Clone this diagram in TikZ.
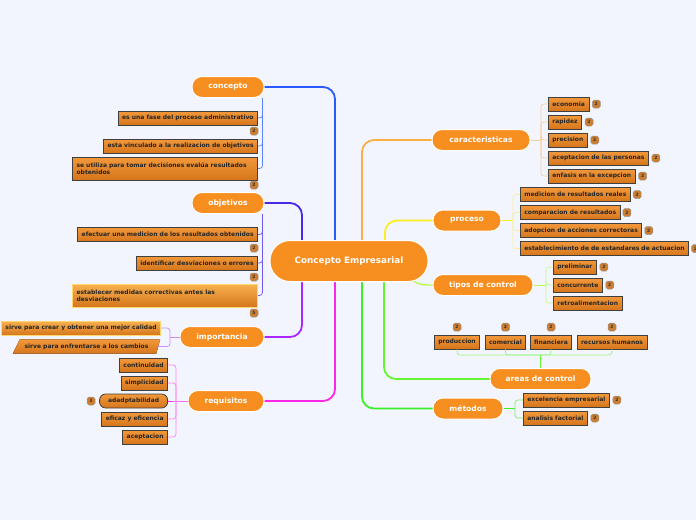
\documentclass[tikz,border=0pt]{standalone}
\usepackage{fontspec}
\setmainfont{DejaVu Sans}
\definecolor{bg}{RGB}{242,245,254}
\definecolor{org}{RGB}{247,142,32}
\definecolor{ltop}{RGB}{242,152,58}
\definecolor{lbot}{RGB}{214,118,28}
\definecolor{ytop}{RGB}{248,178,80}
\definecolor{bdg}{RGB}{205,125,45}
\definecolor{cblue}{RGB}{40,90,255}
\definecolor{cblueL}{RGB}{90,130,255}
\definecolor{cind}{RGB}{70,40,230}
\definecolor{cindL}{RGB}{110,90,240}
\definecolor{cpur}{RGB}{170,40,255}
\definecolor{cpurL}{RGB}{205,140,255}
\definecolor{cmag}{RGB}{250,40,230}
\definecolor{cmagL}{RGB}{255,130,240}
\definecolor{corg}{RGB}{250,175,70}
\definecolor{corgL}{RGB}{250,205,150}
\definecolor{cyel}{RGB}{250,240,30}
\definecolor{cyelL}{RGB}{250,240,150}
\definecolor{clim}{RGB}{185,250,80}
\definecolor{climL}{RGB}{195,250,150}
\definecolor{cgrn}{RGB}{100,245,50}
\definecolor{cgrnL}{RGB}{155,245,125}
\definecolor{cgr2}{RGB}{60,240,40}
\definecolor{cgr2L}{RGB}{125,240,95}
\tikzset{
  mainnode/.style={fill=org, draw=white, line width=1pt, rounded corners=10pt,
    text=white, font=\fontsize{7.6}{9}\selectfont\bfseries, minimum height=21pt, inner sep=0pt},
  centernode/.style={fill=org, draw=white, line width=1pt, rounded corners=20pt,
    text=white, font=\fontsize{8.8}{10}\selectfont\bfseries, minimum height=41pt,
    minimum width=158pt, inner sep=0pt},
  leaftext/.style={text=black!85, font=\fontsize{6}{7}\selectfont\bfseries},
  leaf/.style={leaftext, draw=black!75, line width=0.8pt, top color=ltop, bottom color=lbot,
    minimum height=14pt, inner xsep=4pt, inner ysep=1pt},
  leafy/.style={leaf, draw={rgb,255:red,255;green,215;blue,110}, top color=ytop},
  badge/.style={draw=black!40, line width=0.5pt, fill=bdg, rounded corners=1.8pt,
    minimum size=8pt, inner sep=0pt, text=black!80, font=\fontsize{4.5}{4.5}\selectfont\bfseries},
  branch/.style={line width=1.8pt, rounded corners=12pt},
  sub/.style={line width=0.7pt, rounded corners=3pt},
}
\begin{document}
\begin{tikzpicture}[x=1pt,y=-1pt]
\fill[bg] (0,0) rectangle (696,520);
\useasboundingbox (0,0) rectangle (696,520);

% main nodes
\node[centernode] (C) at (349,261) {Concepto Empresarial};
\node[mainnode, minimum width=72pt] (K) at (228,87) {concepto};
\node[mainnode, minimum width=72pt] (O) at (228,203) {objetivos};
\node[mainnode, minimum width=84pt] (I) at (222,337) {importancia};
\node[mainnode, minimum width=76pt] (R) at (226,401) {requisitos};
\node[mainnode, minimum width=98pt] (Ca) at (481,140) {caracteristicas};
\node[mainnode, minimum width=68pt] (P) at (467,220.5) {proceso};
\node[mainnode, minimum width=100pt] (T) at (483,285) {tipos de control};
\node[mainnode, minimum width=101pt] (A) at (540.5,379) {areas de control};
\node[mainnode, minimum width=70pt] (M) at (468,408.5) {métodos};

% main branches
\draw[branch, cblue] ([xshift=-14pt]C.north) |- (K.east);
\draw[branch, cind] ([xshift=-47pt]C.north) |- (O.east);
\draw[branch, cpur] ([xshift=-47pt]C.south) |- (I.east);
\draw[branch, cmag] ([xshift=-14pt]C.south) |- (R.east);
\draw[branch, corg] ([xshift=13pt]C.north) |- (Ca.west);
\draw[branch, cyel] ([xshift=36pt]C.north) |- (P.west);
\draw[line width=1.4pt, clim] ([xshift=-16pt,yshift=2pt]C.south east) to[out=-40,in=180] (T.west);
\draw[branch, cgrn] ([xshift=35pt]C.south) |- (A.west);
\draw[branch, cgr2] ([xshift=13pt]C.south) |- (M.west);
\node[centernode] at (C) {Concepto Empresarial};

% concepto
\node[leaf, anchor=east] (k1) at (258,118) {es una fase del proceso administrativo};
\node[badge] (kb1) at (254,131) {2};
\node[leaf, anchor=east] (k2) at (258,146) {esta vinculado a la realizacion de objetivos};
\node[leaf, anchor=east, text width=177pt, align=left, minimum height=23pt] (k3) at (258,168.5)
  {se utiliza para tomar decisiones evalúa resultados\\obtenidos};
\node[badge] (kb3) at (254,185) {2};
\foreach \n in {k1,k2,k3} \draw[sub, cblueL] (\n.east) -| ([xshift=-2pt]K.south east);

% objetivos
\node[leaf, anchor=east] (o1) at (258,234.5) {efectuar una medicion de los resultados obtenidos};
\node[badge] (ob1) at (254,248) {2};
\node[leaf, anchor=east] (o2) at (258,263) {identificar desviaciones o errores};
\node[badge] (ob2) at (254,277) {2};
\node[leafy, anchor=east, text width=177pt, align=left, minimum height=23pt] (o3) at (258,295.5)
  {establecer medidas correctivas antes las\\desviaciones};
\node[badge] (ob3) at (254,313) {5};
\foreach \n in {o1,o2,o3} \draw[sub, cindL] (\n.east) -| ([xshift=-2pt]O.south east);

% importancia
\node[leafy, anchor=east] (i1) at (161,328) {sirve para crear y obtener una mejor calidad};
\node[leaftext, minimum height=14pt, minimum width=147pt, inner sep=0pt] (i2) at (86.5,346.5) {};
\fill[top color=ltop, bottom color=lbot] (i2.south west) -- ([xshift=7pt]i2.north west)
  -- (i2.north east) -- ([xshift=-4pt]i2.south east) -- cycle;
\node[leaftext] at (i2) {sirve para enfrentarse a los cambios};
\coordinate (ij) at (170,337);
\draw[sub, cpurL] (I.west) -- (ij);
\draw[sub, cpurL] (i1.east) -| (ij);
\draw[sub, cpurL] ([xshift=-2pt]i2.east) -| (ij);

% requisitos
\node[leaf, anchor=east] (r1) at (168,365) {continuidad};
\node[leaf, anchor=east] (r2) at (168,383) {simplicidad};
\node[leaf, anchor=east, rounded corners=6pt, minimum width=68pt] (r3) at (168,401) {adadptabilidad};
\node[badge] (rb3) at (91,401) {3};
\node[leaf, anchor=east] (r4) at (168,419) {eficaz y eficencia};
\node[leaf, anchor=east] (r5) at (168,437) {aceptacion};
\coordinate (rj) at (176,401);
\draw[line width=1pt, cmag] (R.west) -- (rj) -- (r3.east);
\foreach \n in {r1,r2,r4,r5} \draw[sub, cmagL] (\n.east) -| (rj);

% caracteristicas
\coordinate (cj) at (541,140);
\draw[sub, corgL] (Ca.east) -- (cj);
\foreach \t/\y [count=\i] in {economia/104,rapidez/122,precision/140,aceptacion de las personas/158,enfasis en la excepcion/176}{
  \node[leaf, anchor=west] (c\i) at (548,\y) {\t};
  \node[badge] (cb\i) at ([xshift=7pt]c\i.east) {2};
  \draw[sub, corgL] (c\i.west) -| (cj);
}

% proceso
\coordinate (pj) at (513,220.5);
\draw[line width=1pt, cyel] (P.east) -- (pj);
\foreach \t/\y [count=\i] in {medicion de resultados reales/194.5,comparacion de resultados/212.5,adopcion de acciones correctoras/230.5,establecimiento de de estandares de actuacion/248.5}{
  \node[leaf, anchor=west] (p\i) at (520,\y) {\t};
  \node[badge] (pb\i) at ([xshift=6.5pt]p\i.east) {2};
  \draw[sub, cyelL] (p\i.west) -| (pj);
}

% tipos de control
\coordinate (tj) at (546,285);
\draw[line width=1pt, clim] (T.east) -- (tj);
\node[leaf, anchor=west] (t1) at (553,267) {preliminar};
\node[badge] (tb1) at ([xshift=7pt]t1.east) {2};
\node[leaf, anchor=west] (t2) at (553,285) {concurrente};
\node[badge] (tb2) at ([xshift=7pt]t2.east) {2};
\node[leaf, anchor=west] (t3) at (553,303) {retroalimentacion};
\foreach \n in {t1,t2,t3} \draw[sub, climL] (\n.west) -| (tj);

% areas de control
\node[leaf] (a1) at (457,342) {produccion};
\node[leaf] (a2) at (505.5,342) {comercial};
\node[leaf] (a3) at (551,342) {financiera};
\node[leaf] (a4) at (612,342) {recursos humanos};
\foreach \n in {a1,a2,a3,a4} \node[badge] at ([yshift=7.5pt]\n.north) {2};
\coordinate (aj) at (540.5,355);
\draw[line width=1pt, cgrn] (A.north) -- (aj);
\foreach \n in {a1,a2,a3,a4} \draw[sub, cgrnL] (\n.south) |- (aj);

% metodos
\coordinate (mj) at (515,408.5);
\draw[line width=1pt, cgr2] (M.east) -- (mj);
\node[leaf, anchor=west] (m1) at (523,400) {excelencia empresarial};
\node[badge] (mb1) at ([xshift=7pt]m1.east) {2};
\node[leaf, anchor=west] (m2) at (523,418) {analisis factorial};
\node[badge] (mb2) at ([xshift=7pt]m2.east) {2};
\foreach \n in {m1,m2} \draw[sub, cgr2L] (\n.west) -| (mj);
\end{tikzpicture}
\end{document}
